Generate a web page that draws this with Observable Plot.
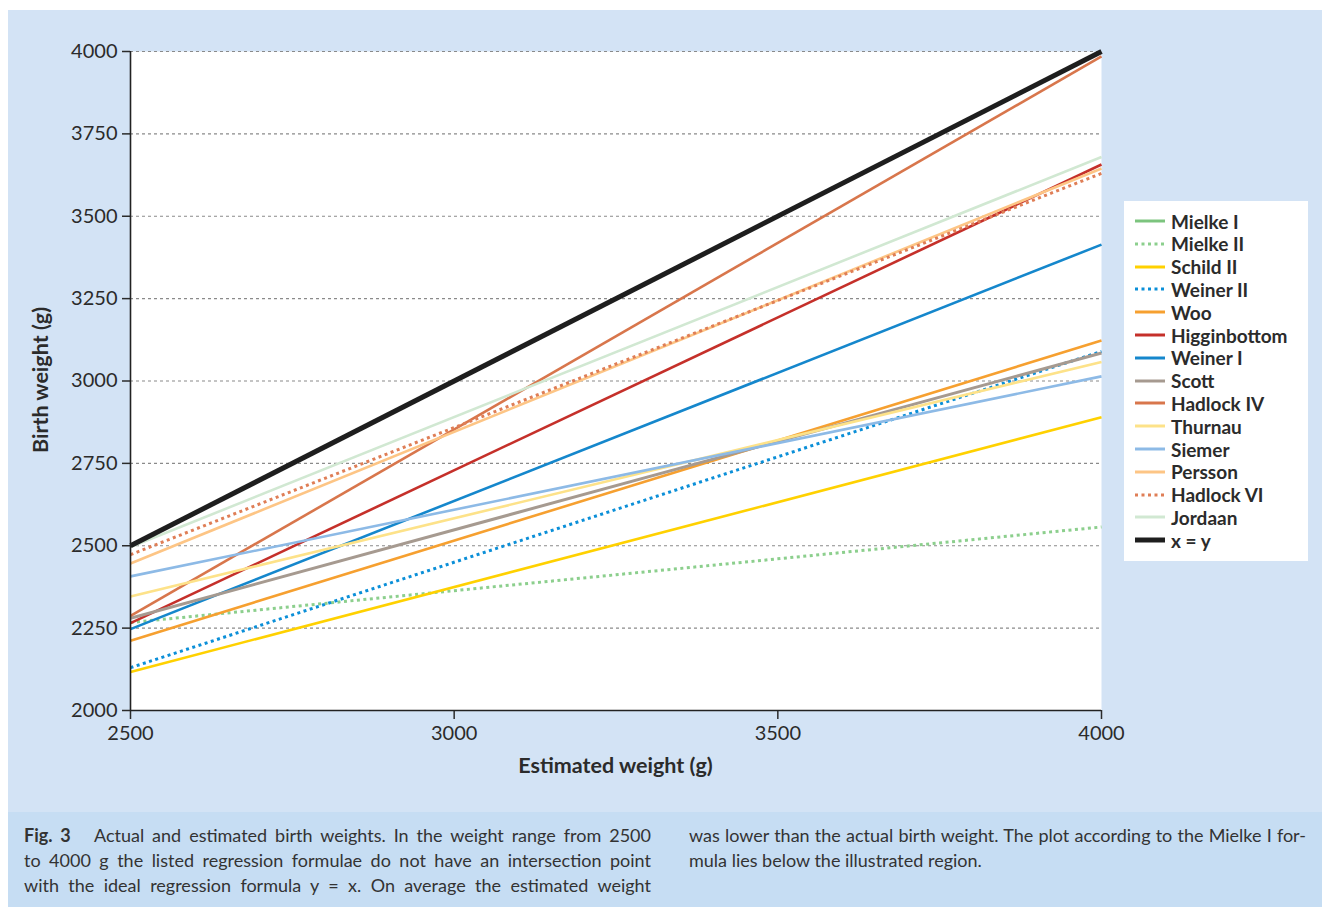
<!DOCTYPE html>
<html>
<head>
<meta charset="utf-8">
<script src="https://cdn.jsdelivr.net/npm/d3@7"></script>
<script src="https://cdn.jsdelivr.net/npm/@observablehq/plot@0.6"></script>
<style>
  html, body { margin: 0; padding: 0; background: #ffffff; }
  #page { position: relative; width: 1322px; height: 907px; overflow: hidden; font-family: Lato, "Open Sans", sans-serif; color: #2b2b2b; }
  #panel { position: absolute; left: 8px; top: 10px; width: 1314px; height: 802px; background: #d3e3f5; }
  #panel > svg { position: absolute; left: 0; top: 0; }
  #caption { position: absolute; left: 8px; top: 812px; width: 1314px; height: 95px; background: #c6ddf3; }
  .col { position: absolute; top: 11px; font-size: 18px; line-height: 25px; color: #333; }
  .col div { white-space: nowrap; text-align: justify; text-align-last: justify; }
  .col div.last { text-align-last: left; }
  #xtitle { position: absolute; left: 0; width: 100%; text-align: center; font-weight: 700; font-size: 21.5px; }
  #ytitle { position: absolute; font-weight: 700; font-size: 21.5px; transform: translate(-50%, -50%) rotate(-90deg); white-space: nowrap; }
  #legend { position: absolute; left: 1116px; top: 191px; width: 184px; height: 360px; background: #ffffff; }
  #legend .li { position: absolute; left: 11px; height: 22px; display: flex; align-items: center; font-weight: 700; font-size: 19px; color: #2b2b2b; white-space: nowrap; }
  #legend .li svg { position: static; display: block; margin-right: 6px; flex: none; }
</style>
</head>
<body>
<div id="page">
  <div id="panel">
    <div id="legend"></div>
  </div>
  <div id="caption">
    <div class="col" style="left:16px; width:627px;">
      <div><b>Fig. 3</b>&nbsp;&nbsp; Actual and estimated birth weights. In the weight range from 2500</div>
      <div>to 4000 g the listed regression formulae do not have an intersection point</div>
      <div>with the ideal regression formula y = x. On average the estimated weight</div>
    </div>
    <div class="col" style="left:681px; width:617px;">
      <div>was lower than the actual birth weight. The plot according to the Mielke I for-</div>
      <div class="last">mula lies below the illustrated region.</div>
    </div>
  </div>
</div>
<script>
// ---- data ----
const xEnds = [2500, 4000];
const seriesNames = ["Mielke II", "Schild II", "Weiner II", "Woo", "Higginbottom", "Weiner I", "Scott", "Hadlock IV", "Thurnau", "Siemer", "Persson", "Hadlock VI", "Jordaan", "x = y"];
const valuesAt2500 = [2267, 2117, 2130, 2212, 2265, 2247, 2280, 2287, 2346, 2407, 2446, 2473, 2496, 2500];
const valuesAt4000 = [2557, 2890, 3090, 3123, 3657, 3414, 3085, 3985, 3058, 3014, 3645, 3630, 3680, 4000];
const legendNames = ["Mielke I", "Mielke II", "Schild II", "Weiner II", "Woo", "Higginbottom", "Weiner I", "Scott", "Hadlock IV", "Thurnau", "Siemer", "Persson", "Hadlock VI", "Jordaan", "x = y"];
const xTicks = [2500, 3000, 3500, 4000];
const yTicks = [2000, 2250, 2500, 2750, 3000, 3250, 3500, 3750, 4000];

// ---- styles ----
const styles = {
  "Mielke I":     {stroke: "#7cc47e", width: 3, dash: null},
  "Mielke II":    {stroke: "#8ccf8d", width: 3, dash: "3,3.5"},
  "Schild II":    {stroke: "#ffd100", width: 2.6, dash: null},
  "Weiner II":    {stroke: "#0b8fd8", width: 3, dash: "3,3.5"},
  "Woo":          {stroke: "#f6a030", width: 2.6, dash: null},
  "Higginbottom": {stroke: "#c5302a", width: 2.6, dash: null},
  "Weiner I":     {stroke: "#1587cc", width: 2.6, dash: null},
  "Scott":        {stroke: "#a69a90", width: 3, dash: null},
  "Hadlock IV":   {stroke: "#d8764c", width: 2.6, dash: null},
  "Thurnau":      {stroke: "#fde289", width: 2.6, dash: null},
  "Siemer":       {stroke: "#8dbae6", width: 2.6, dash: null},
  "Persson":      {stroke: "#fdc585", width: 2.6, dash: null},
  "Hadlock VI":   {stroke: "#df7e56", width: 3, dash: "3,3.5"},
  "Jordaan":      {stroke: "#d1e8d2", width: 2.6, dash: null},
  "x = y":        {stroke: "#1e1e1e", width: 5, dash: null}
};

const lineMarks = seriesNames.map((name, i) => {
  const rows = xEnds.map((x, j) => ({x, y: j === 0 ? valuesAt2500[i] : valuesAt4000[i]}));
  const s = styles[name];
  return Plot.line(rows, {x: "x", y: "y", stroke: s.stroke, strokeWidth: s.width, strokeDasharray: s.dash, strokeLinecap: "butt"});
});

const fmt = d => String(d);
const chart = Plot.plot({
  width: 1314,
  height: 802,
  marginLeft: 122,
  marginRight: 221,
  marginTop: 41,
  marginBottom: 102,
  style: {background: "transparent", fontFamily: "Lato, 'Open Sans', sans-serif", fontSize: "20px", color: "#2b2b2b", overflow: "visible"},
  x: {domain: [2500, 4000]},
  y: {domain: [2000, 4000]},
  marks: [
    Plot.frame({fill: "white", stroke: null}),
    Plot.gridY(yTicks.filter(d => d > 2000), {stroke: "#8a8a8a", strokeOpacity: 1, strokeWidth: 1.2, strokeDasharray: "3,3"}),
    ...lineMarks,
    Plot.axisY(yTicks, {tickSize: 8, tickPadding: 5, label: null, strokeWidth: 1.5, tickFormat: fmt}),
    Plot.axisX(xTicks, {tickSize: 9, tickPadding: 6, label: null, strokeWidth: 1.5, tickFormat: fmt}),
    Plot.ruleX([2500], {stroke: "#222", strokeWidth: 1.6}),
    Plot.ruleY([2000], {stroke: "#222", strokeWidth: 1.6})
  ]
});
const panel = document.getElementById("panel");
panel.insertBefore(chart, panel.firstChild);

// axis titles
const xt = document.createElement("div");
xt.id = "xtitle"; xt.textContent = "Estimated weight (g)";
xt.style.left = "122px"; xt.style.width = (1314 - 122 - 221) + "px"; xt.style.top = "742px";
panel.appendChild(xt);
const yt = document.createElement("div");
yt.id = "ytitle"; yt.textContent = "Birth weight (g)";
yt.style.left = "32px"; yt.style.top = "370px";
panel.appendChild(yt);

// legend
const legend = document.getElementById("legend");
legendNames.forEach((name, i) => {
  const s = styles[name];
  const row = document.createElement("div");
  row.className = "li";
  row.style.top = (20 + i * 22.8 - 11) + "px";
  const sw = d3.create("svg").attr("width", 30).attr("height", 8);
  sw.append("line").attr("x1", 0).attr("x2", 30).attr("y1", 4).attr("y2", 4)
    .attr("stroke", s.stroke).attr("stroke-width", name === "x = y" ? 5 : 3)
    .attr("stroke-dasharray", s.dash);
  row.appendChild(sw.node());
  const t = document.createElement("span");
  t.textContent = name;
  row.appendChild(t);
  legend.appendChild(row);
});
</script>
</body>
</html>
